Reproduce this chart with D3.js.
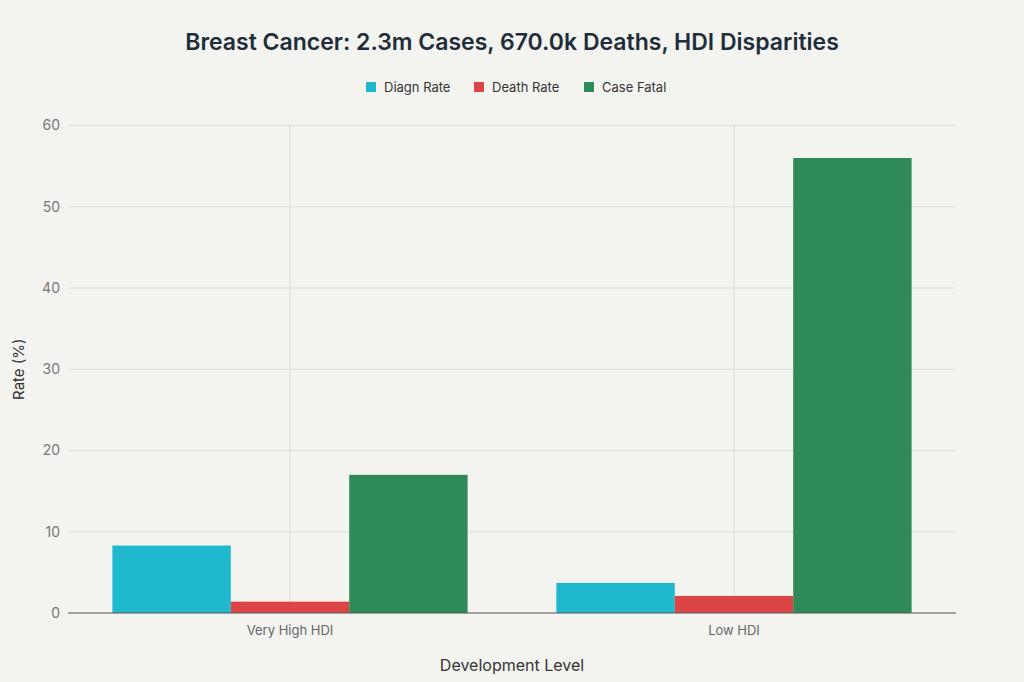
<!DOCTYPE html>
<html>
<head>
<meta charset="utf-8">
<script src="https://cdn.jsdelivr.net/npm/d3@7"></script>
<style>
  body { margin: 0; background: #f3f3ef; }
  svg { display: block; font-family: Inter, "Liberation Sans", sans-serif; }
</style>
</head>
<body>
<svg id="chart" width="1024" height="682"></svg>
<script>
var levels = ["Very High HDI", "Low HDI"]
var series = ["Diagn Rate", "Death Rate", "Case Fatal"]
var colors = ["#1fb8cd", "#db4545", "#2e8b57"]
var diagnRate = [8.3, 3.7]
var deathRate = [1.4, 2.1]
var caseFatal = [17.0, 56.0]
var yTicks = [0, 10, 20, 30, 40, 50, 60]

var values = [diagnRate, deathRate, caseFatal]

var svg = d3.select("#chart")
var padL = 68, padR = 956, padT = 125.5, padB = 613

svg.append("rect").attr("width", 1024).attr("height", 682).attr("fill", "#f3f3ef")

var x = d3.scaleBand().domain(levels).range([padL, padR]).padding(0)
var x1 = d3.scaleBand().domain(series).range([x.bandwidth() * 0.1, x.bandwidth() * 0.9]).padding(0)
var y = d3.scaleLinear().domain([0, 60]).range([padB, padT])

// grid
svg.append("g").selectAll("line").data(yTicks.slice(1)).enter().append("line")
  .attr("x1", padL).attr("x2", padR)
  .attr("y1", function (d) { return y(d) }).attr("y2", function (d) { return y(d) })
  .attr("stroke", "#dcdcd8").attr("stroke-width", 1)
svg.append("g").selectAll("line").data(levels).enter().append("line")
  .attr("x1", function (d) { return x(d) + x.bandwidth() / 2 })
  .attr("x2", function (d) { return x(d) + x.bandwidth() / 2 })
  .attr("y1", padT).attr("y2", padB)
  .attr("stroke", "#dcdcd8").attr("stroke-width", 1)

// bars
series.forEach(function (s, i) {
  svg.append("g").selectAll("rect").data(levels).enter().append("rect")
    .attr("x", function (d) { return x(d) + x1(s) })
    .attr("width", x1.bandwidth())
    .attr("y", function (d, j) { return y(values[i][j]) })
    .attr("height", function (d, j) { return y(0) - y(values[i][j]) })
    .attr("fill", colors[i])
})

// zero line
svg.append("line").attr("x1", padL).attr("x2", padR).attr("y1", y(0)).attr("y2", y(0))
  .attr("stroke", "#555").attr("stroke-width", 1)

// y axis
var yAxis = d3.axisLeft(y).tickValues(yTicks).tickSize(0).tickPadding(8)
var gy = svg.append("g").attr("transform", "translate(" + padL + ",0)").call(yAxis)
gy.select(".domain").remove()
gy.selectAll("text").attr("font-size", 14).attr("fill", "#777").attr("font-family", "Inter, 'Liberation Sans', sans-serif")

// x axis
var xAxis = d3.axisBottom(x).tickSize(0).tickPadding(13)
var gx = svg.append("g").attr("transform", "translate(0," + padB + ")").call(xAxis)
gx.select(".domain").remove()
gx.selectAll("text").attr("font-size", 13).attr("fill", "#666").attr("font-family", "Inter, 'Liberation Sans', sans-serif")

// axis titles
svg.append("text").text("Development Level").attr("x", (padL + padR) / 2).attr("y", 671)
  .attr("text-anchor", "middle").attr("font-size", 16).attr("fill", "#333")
svg.append("text").text("Rate (%)").attr("transform", "translate(24," + ((padT + padB) / 2) + ") rotate(-90)")
  .attr("text-anchor", "middle").attr("font-size", 15).attr("fill", "#333")

// title
svg.append("text").text("Breast Cancer: 2.3m Cases, 670.0k Deaths, HDI Disparities")
  .attr("x", 512).attr("y", 50).attr("text-anchor", "middle")
  .attr("font-size", 23).attr("font-weight", 600).attr("fill", "#1f2d3a")

// legend
var legX = [366, 474, 584]
var leg = svg.append("g").selectAll("g").data(series).enter().append("g")
  .attr("transform", function (d, i) { return "translate(" + legX[i] + ",82)" })
leg.append("rect").attr("width", 10).attr("height", 10).attr("fill", function (d, i) { return colors[i] })
leg.append("text").text(function (d) { return d }).attr("x", 18).attr("y", 10)
  .attr("font-size", 13).attr("fill", "#333")
</script>
</body>
</html>
